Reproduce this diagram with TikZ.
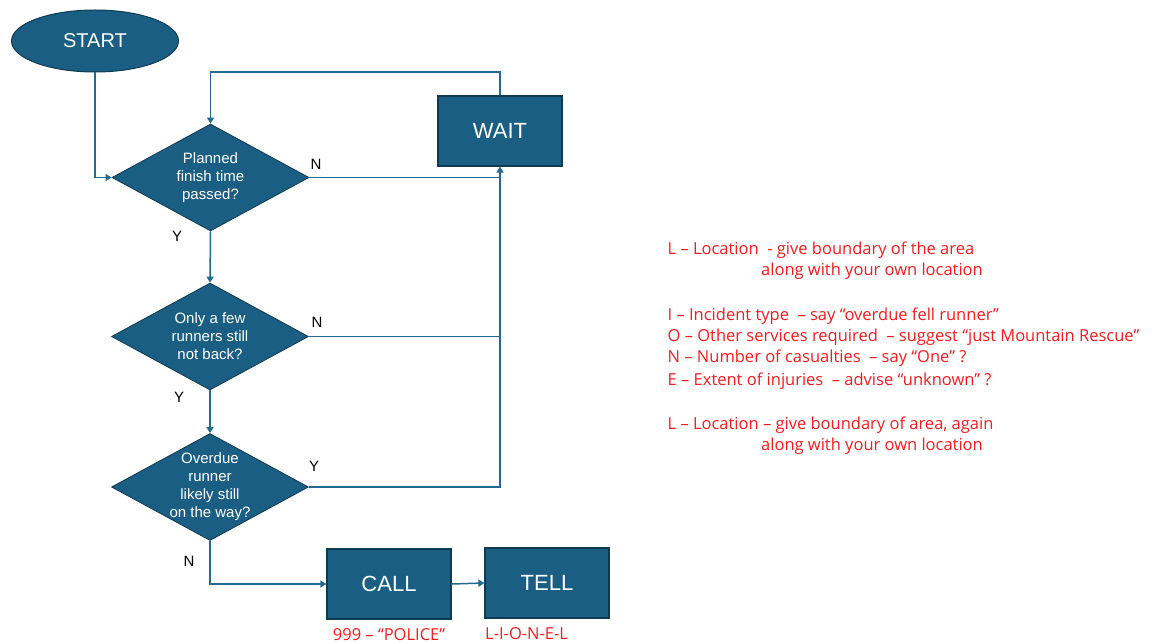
\documentclass[tikz,border=0pt]{standalone}
\usepackage{fontspec}
\setmainfont{Liberation Sans}
\newfontfamily\notefont{Open Sans}
\usetikzlibrary{shapes.geometric,arrows.meta}
\definecolor{boxfill}{HTML}{1A5E83}
\definecolor{boxline}{HTML}{0F3B52}
\definecolor{connc}{HTML}{226B90}
\definecolor{notec}{HTML}{F21C1C}
\tikzset{
  terminal/.style={ellipse, draw=boxline, fill=boxfill, line width=1pt, minimum width=167pt, minimum height=62pt, inner sep=0pt, text=white, font=\fontsize{20}{24}\selectfont},
  decision/.style={diamond, draw=boxline, fill=boxfill, line width=0.8pt, minimum width=197pt, minimum height=107pt, inner sep=0pt, aspect=1.84, text=white, align=center, font=\fontsize{15}{18}\selectfont},
  process/.style={rectangle, draw=boxline, fill=boxfill, line width=1.2pt, minimum width=124pt, minimum height=70pt, inner sep=0pt, text=white, font=\fontsize{22}{26}\selectfont},
  flow/.style={draw=connc, line width=1.5pt},
  arrowflow/.style={flow, -{Triangle[length=6pt,width=7pt]}},
  lab/.style={font=\fontsize{15}{18}\selectfont, text=black, inner sep=0pt},
  notetext/.style={text=notec, font=\notefont\fontsize{16.5}{19}\selectfont, anchor=base west, inner sep=0pt},
}
\begin{document}
\begin{tikzpicture}[x=1pt,y=-1pt]
\useasboundingbox (0,0) rectangle (1155,644);

\node[terminal] (start) at (95,41) {START};
\node[decision] (d1) at (210.5,177.5) {Planned\\finish time\\passed?};
\node[decision] (d2) at (210,336.5) {Only a few\\runners still\\not back?};
\node[decision, inner sep=-9pt] (d3) at (210,487) {Overdue\\runner\\likely still\\on the way?};
\node[process] (wait) at (500,131) {WAIT};
\node[process] (call) at (389,584) {CALL};
\node[process] (tell) at (547,583) {TELL};

\coordinate (loop) at (500,72);
\coordinate (j1) at (wait.south |- d1.east);
\coordinate (j2) at (wait.south |- d2.east);

\draw[arrowflow] (start.south) |- (d1.west);
\draw[arrowflow] (wait.north) -- (loop) -| (d1.north);
\draw[flow] (d1.east) -- (j1);
\draw[flow] (d2.east) -- (j2);
\draw[arrowflow] (d3.east) -| (wait.south);
\draw[arrowflow] (d1.south) -- (d2.north);
\draw[arrowflow] (d2.south) -- (d3.north);
\draw[arrowflow] (d3.south) |- (call.west);
\draw[arrowflow] (call.east) -- (tell.west);

\node[lab] (n1) at (316,164) {N};
\node[lab] (y1) at (177,236) {Y};
\node[lab] (n2) at (317,322) {N};
\node[lab] (y2) at (179,397) {Y};
\node[lab] (y3) at (314,466) {Y};
\node[lab] (n3) at (189,561) {N};

\node[notetext, anchor=base] (callnote) at (389,640.5) {999 – “POLICE”};
\node[notetext] (tellnote) at (485,639) {L-I-O-N-E-L};

\node[notetext] (t1) at (667.5,254) {L – Location\ \ - give boundary of the area};
\node[notetext] (t2) at (761,275.7) {along with your own location};
\node[notetext] (t3) at (667.5,320) {I – Incident type\ \ – say “overdue fell runner”};
\node[notetext] (t4) at (667.5,341) {O – Other services required\ \ – suggest “just Mountain Rescue”};
\node[notetext] (t5) at (667.5,362.7) {N – Number of casualties\ \ – say “One” ?};
\node[notetext] (t6) at (667.5,385) {E – Extent of injuries\ \ – advise “unknown” ?};
\node[notetext] (t7) at (667.5,429) {L – Location – give boundary of area, again};
\node[notetext] (t8) at (761,450) {along with your own location};
\end{tikzpicture}
\end{document}
